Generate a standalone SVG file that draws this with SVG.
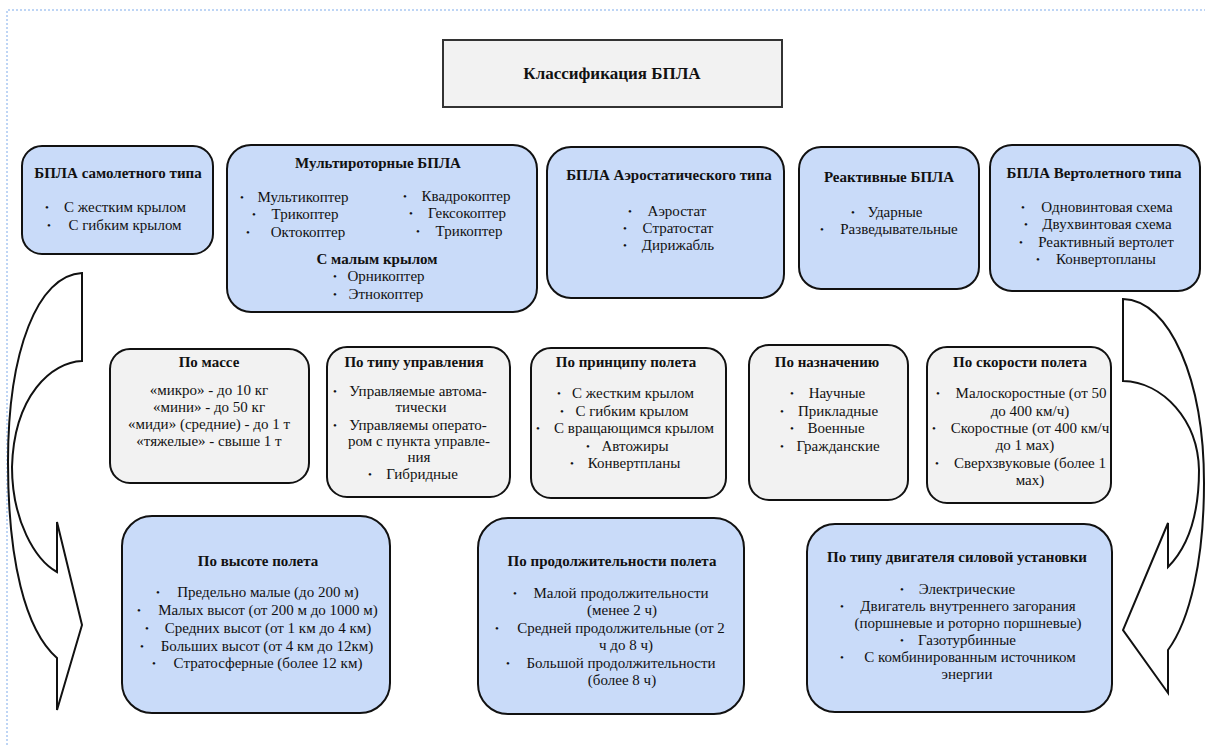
<svg xmlns="http://www.w3.org/2000/svg" width="1205" height="745" viewBox="0 0 1205 745" font-family="'Liberation Serif', serif">
  <style>
    .blue { fill: #c9dbf9; stroke: #111; stroke-width: 2; }
    .grey { fill: #f2f2f2; stroke: #111; stroke-width: 2; }
    .frame { fill: #f2f2f2; stroke: #333; stroke-width: 2; }
    .arrow { fill: #fff; stroke: #111; stroke-width: 2; stroke-linejoin: miter; }
    text { font-family: 'Liberation Serif', serif; fill: #111; text-anchor: middle; }
    .h { font-size: 15px; font-weight: bold; }
    .t { font-size: 15px; }
    .b { font-size: 11px; }
    .title { font-size: 17px; font-weight: bold; }
  </style>

  <!-- page border -->
  <path d="M7,745 L7,10 L1205,10" fill="none" stroke="#a9c8f2" stroke-width="1.5" stroke-dasharray="2 2"/>

  <g id="title">
    <rect class="frame" x="443" y="40" width="339" height="67"/>
    <text class="title" x="612" y="79">Классификация БПЛА</text>
  </g>

  <!-- curved arrows on both sides -->
  <g id="connectors">
    <path class="arrow" d="M82,273 L82,361 C52,362 14,395 12,467 C12,520 35,560 57,572 L57,522 L82,625 L57,710 L57,658 C25,630 8,560 8,462 C8,350 38,275 82,273 Z"/>
    <path class="arrow" d="M1123,299 L1123,381 C1163,382 1198,420 1199,470 C1199,520 1185,550 1168,567 L1168,523 L1123,630 L1168,693 L1168,650 C1190,620 1204,560 1204,483 C1204,380 1170,300 1123,299 Z"/>
  </g>

  <!-- top row: types of UAV -->
  <g id="plane">
    <rect class="blue" x="22" y="146" width="191" height="108" rx="20"/>
    <text class="h" x="118" y="178">БПЛА самолетного типа</text>
    <text class="b" x="47" y="211">•</text><text class="t" x="125" y="212">С жестким крылом</text>
    <text class="b" x="49" y="229">•</text><text class="t" x="125" y="230">С гибким крылом</text>
  </g>

  <g id="multirotor">
    <rect class="blue" x="227" y="145" width="310" height="167" rx="24"/>
    <text class="h" x="378" y="168">Мультироторные БПЛА</text>
    <text class="b" x="242" y="201">•</text><text class="t" x="303" y="202">Мультикоптер</text>
    <text class="b" x="254" y="218">•</text><text class="t" x="305" y="219">Трикоптер</text>
    <text class="b" x="248" y="236">•</text><text class="t" x="308" y="237">Октокоптер</text>
    <text class="b" x="405" y="200">•</text><text class="t" x="466" y="201">Квадрокоптер</text>
    <text class="b" x="411" y="217">•</text><text class="t" x="467" y="218">Гексокоптер</text>
    <text class="b" x="418" y="235">•</text><text class="t" x="469" y="236">Трикоптер</text>
    <text class="h" x="377" y="264">С малым крылом</text>
    <text class="b" x="335" y="280">•</text><text class="t" x="386" y="281">Орникоптер</text>
    <text class="b" x="335" y="298">•</text><text class="t" x="386" y="299">Этнокоптер</text>
  </g>

  <g id="aerostatic">
    <rect class="blue" x="547" y="147" width="237" height="151" rx="24"/>
    <text class="h" x="669" y="180">БПЛА Аэростатического типа</text>
    <text class="b" x="630" y="215">•</text><text class="t" x="677" y="216">Аэростат</text>
    <text class="b" x="625" y="232">•</text><text class="t" x="678" y="233">Стратостат</text>
    <text class="b" x="625" y="249">•</text><text class="t" x="678" y="250">Дирижабль</text>
  </g>

  <g id="jet">
    <rect class="blue" x="799" y="147" width="180" height="142" rx="22"/>
    <text class="h" x="889" y="182">Реактивные БПЛА</text>
    <text class="b" x="853" y="216">•</text><text class="t" x="895" y="217">Ударные</text>
    <text class="b" x="822" y="233">•</text><text class="t" x="899" y="234">Разведывательные</text>
  </g>

  <g id="helicopter">
    <rect class="blue" x="990" y="145" width="210" height="146" rx="22"/>
    <text class="h" x="1094" y="178">БПЛА Вертолетного типа</text>
    <text class="b" x="1023" y="211">•</text><text class="t" x="1107" y="212">Одновинтовая схема</text>
    <text class="b" x="1026" y="228">•</text><text class="t" x="1107" y="229">Двухвинтовая схема</text>
    <text class="b" x="1021" y="246">•</text><text class="t" x="1106" y="247">Реактивный вертолет</text>
    <text class="b" x="1038" y="263">•</text><text class="t" x="1106" y="264">Конвертопланы</text>
  </g>

  <!-- middle row: criteria -->
  <g id="mass">
    <rect class="grey" x="110" y="349" width="199" height="134" rx="20"/>
    <text class="h" x="209" y="367">По массе</text>
    <text class="t" x="209" y="395">«микро» - до 10 кг</text>
    <text class="t" x="209" y="412">«мини» - до 50 кг</text>
    <text class="t" x="209" y="429">«миди» (средние) - до 1 т</text>
    <text class="t" x="209" y="446">«тяжелые» - свыше 1 т</text>
  </g>

  <g id="control">
    <rect class="grey" x="327" y="347" width="183" height="150" rx="20"/>
    <text class="h" x="414" y="367">По типу управления</text>
    <text class="b" x="335" y="395">•</text><text class="t" x="418" y="396">Управляемые автома-</text>
    <text class="t" x="421" y="412">тически</text>
    <text class="b" x="335" y="429">•</text><text class="t" x="418" y="430">Управляемы операто-</text>
    <text class="t" x="419" y="446">ром с пункта управле-</text>
    <text class="t" x="419" y="462">ния</text>
    <text class="b" x="370" y="478">•</text><text class="t" x="422" y="479">Гибридные</text>
  </g>

  <g id="principle">
    <rect class="grey" x="531" y="348" width="195" height="150" rx="20"/>
    <text class="h" x="626" y="367">По принципу полета</text>
    <text class="b" x="559" y="397">•</text><text class="t" x="633" y="398">С жестким крылом</text>
    <text class="b" x="562" y="415">•</text><text class="t" x="632" y="416">С гибким крылом</text>
    <text class="b" x="538" y="432">•</text><text class="t" x="634" y="433">С вращающимся крылом</text>
    <text class="b" x="588" y="450">•</text><text class="t" x="635" y="451">Автожиры</text>
    <text class="b" x="572" y="467">•</text><text class="t" x="634" y="468">Конвертпланы</text>
  </g>

  <g id="purpose">
    <rect class="grey" x="749" y="345" width="159" height="155" rx="20"/>
    <text class="h" x="827" y="367">По назначению</text>
    <text class="b" x="792" y="397">•</text><text class="t" x="837" y="398">Научные</text>
    <text class="b" x="782" y="415">•</text><text class="t" x="838" y="416">Прикладные</text>
    <text class="b" x="792" y="432">•</text><text class="t" x="836" y="433">Военные</text>
    <text class="b" x="782" y="450">•</text><text class="t" x="838" y="451">Гражданские</text>
  </g>

  <g id="speed">
    <rect class="grey" x="927" y="347" width="184" height="156" rx="20"/>
    <text class="h" x="1020" y="367">По скорости полета</text>
    <text class="b" x="938" y="397">•</text><text class="t" x="1031" y="398">Малоскоростные (от 50</text>
    <text class="t" x="1030" y="416">до 400 км/ч)</text>
    <text class="b" x="934" y="432">•</text><text class="t" x="1030" y="433">Скоростные (от 400 км/ч</text>
    <text class="t" x="1025" y="450">до 1 мах)</text>
    <text class="b" x="937" y="467">•</text><text class="t" x="1030" y="468">Сверхзвуковые (более 1</text>
    <text class="t" x="1030" y="485">мах)</text>
  </g>

  <!-- bottom row -->
  <g id="altitude">
    <rect class="blue" x="122" y="516" width="268" height="197" rx="30"/>
    <text class="h" x="258" y="566">По высоте полета</text>
    <text class="b" x="158" y="596">•</text><text class="t" x="268" y="597">Предельно малые (до 200 м)</text>
    <text class="b" x="139" y="614">•</text><text class="t" x="268" y="615">Малых высот (от 200 м до 1000 м)</text>
    <text class="b" x="147" y="632">•</text><text class="t" x="268" y="633">Средних высот (от 1 км до 4 км)</text>
    <text class="b" x="142" y="650">•</text><text class="t" x="267" y="651">Больших высот (от 4 км до 12км)</text>
    <text class="b" x="154" y="667">•</text><text class="t" x="268" y="668">Стратосферные (более 12 км)</text>
  </g>

  <g id="duration">
    <rect class="blue" x="478" y="518" width="266" height="196" rx="30"/>
    <text class="h" x="612" y="566">По продолжительности полета</text>
    <text class="b" x="515" y="597">•</text><text class="t" x="621" y="598">Малой продолжительности</text>
    <text class="t" x="622" y="615">(менее 2 ч)</text>
    <text class="b" x="497" y="632">•</text><text class="t" x="621" y="633">Средней продолжительные (от 2</text>
    <text class="t" x="626" y="650">ч до 8 ч)</text>
    <text class="b" x="508" y="667">•</text><text class="t" x="621" y="668">Большой продолжительности</text>
    <text class="t" x="622" y="685">(более 8 ч)</text>
  </g>

  <g id="engine">
    <rect class="blue" x="807" y="524" width="305" height="188" rx="28"/>
    <text class="h" x="957" y="562">По типу двигателя силовой установки</text>
    <text class="b" x="902" y="593">•</text><text class="t" x="967" y="594">Электрические</text>
    <text class="b" x="842" y="610">•</text><text class="t" x="968" y="611">Двигатель внутреннего загорания</text>
    <text class="t" x="968" y="628">(поршневые и роторно поршневые)</text>
    <text class="b" x="902" y="644">•</text><text class="t" x="967" y="645">Газотурбинные</text>
    <text class="b" x="842" y="661">•</text><text class="t" x="970" y="662">С комбинированным источником</text>
    <text class="t" x="967" y="679">энергии</text>
  </g>
</svg>
